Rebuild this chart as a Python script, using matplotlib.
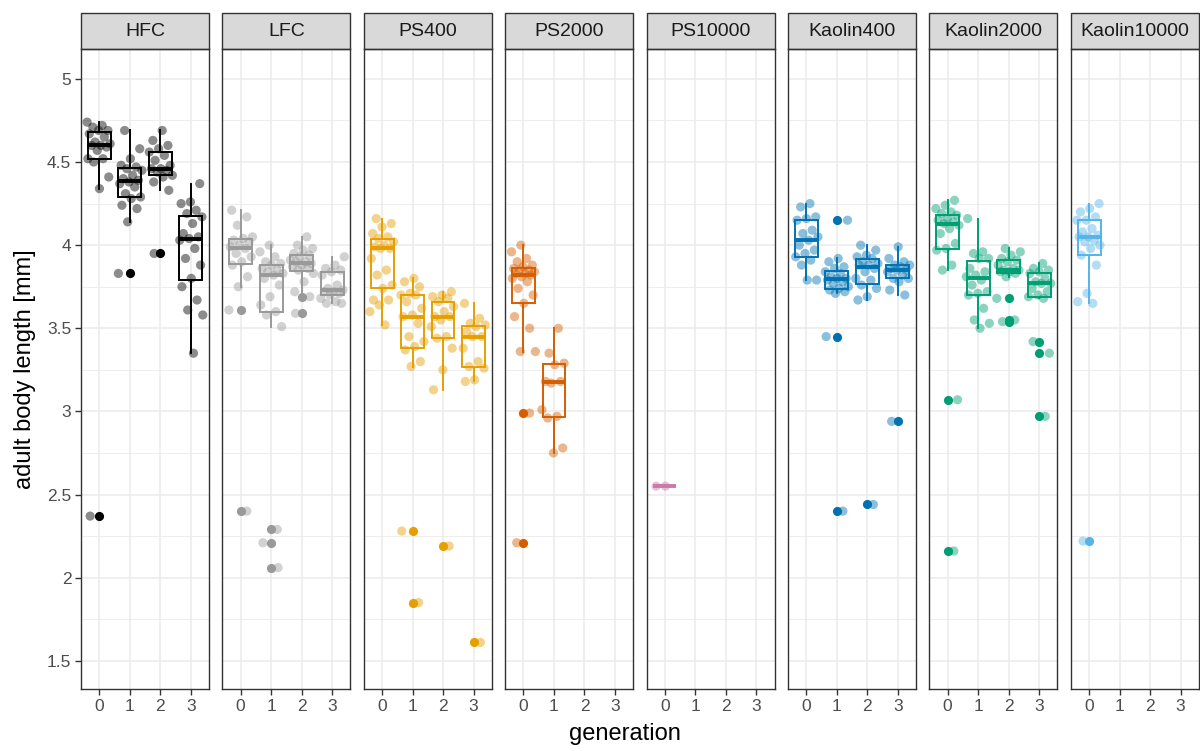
import numpy as np
import matplotlib.pyplot as plt
from matplotlib.patches import Rectangle
from matplotlib.ticker import MultipleLocator, FormatStrFormatter

plt.rcParams["font.family"] = ["Liberation Sans", "DejaVu Sans"]

# facets and colours (Okabe-Ito)
treatments = ["HFC", "LFC", "PS400", "PS2000", "PS10000",
              "Kaolin400", "Kaolin2000", "Kaolin10000"]
colours = ["#000000", "#999999", "#E69F00", "#D55E00", "#CC79A7",
           "#0072B2", "#009E73", "#56B4E9"]
generations = [0, 1, 2, 3]

# adult body length [mm] per treatment, one list per generation
hfc = [
    [4.74, 4.72, 4.71, 4.69, 4.69, 4.67, 4.65, 4.62, 4.61, 4.60, 4.60, 4.59,
     4.57, 4.52, 4.52, 4.50, 4.41, 4.34, 2.37],
    [4.69, 4.58, 4.52, 4.48, 4.47, 4.46, 4.45, 4.42, 4.40, 4.39, 4.38, 4.37,
     4.35, 4.31, 4.29, 4.28, 4.24, 4.22, 4.14, 3.83],
    [4.69, 4.63, 4.60, 4.58, 4.56, 4.54, 4.51, 4.48, 4.46, 4.46, 4.45, 4.44,
     4.42, 4.41, 4.38, 4.33, 3.95],
    [4.37, 4.26, 4.25, 4.21, 4.19, 4.17, 4.13, 4.07, 4.05, 4.04, 4.03, 3.98,
     3.92, 3.88, 3.80, 3.75, 3.67, 3.61, 3.58, 3.35],
]
lfc = [
    [4.21, 4.17, 4.12, 4.05, 4.04, 4.03, 4.02, 4.00, 3.99, 3.98, 3.95, 3.93,
     3.90, 3.88, 3.81, 3.75, 3.61, 2.40],
    [4.00, 3.96, 3.93, 3.90, 3.89, 3.88, 3.86, 3.85, 3.84, 3.83, 3.82, 3.80,
     3.76, 3.69, 3.64, 3.60, 3.58, 3.51, 2.29, 2.21, 2.06],
    [4.05, 4.00, 3.98, 3.97, 3.95, 3.94, 3.93, 3.91, 3.90, 3.90, 3.89, 3.88,
     3.87, 3.86, 3.85, 3.83, 3.78, 3.72, 3.69, 3.59],
    [3.93, 3.88, 3.86, 3.85, 3.84, 3.82, 3.76, 3.74, 3.73, 3.72, 3.72, 3.71,
     3.70, 3.68, 3.66, 3.65, 3.65],
]
ps400 = [
    [4.16, 4.13, 4.11, 4.07, 4.05, 4.04, 4.02, 4.00, 3.99, 3.98, 3.98, 3.92,
     3.85, 3.82, 3.76, 3.74, 3.67, 3.67, 3.64, 3.60, 3.52],
    [3.80, 3.78, 3.75, 3.71, 3.70, 3.70, 3.66, 3.62, 3.58, 3.57, 3.53, 3.45,
     3.42, 3.39, 3.37, 3.30, 3.27, 2.28, 1.85],
    [3.72, 3.70, 3.69, 3.68, 3.66, 3.63, 3.60, 3.57, 3.57, 3.55, 3.51, 3.45,
     3.44, 3.38, 3.25, 3.13, 2.19],
    [3.65, 3.56, 3.53, 3.52, 3.51, 3.48, 3.45, 3.45, 3.38, 3.30, 3.27, 3.26,
     3.19, 3.18, 1.61],
]
ps2000 = [
    [4.00, 3.96, 3.92, 3.90, 3.88, 3.87, 3.86, 3.85, 3.85, 3.84, 3.83, 3.83,
     3.82, 3.81, 3.80, 3.78, 3.74, 3.70, 3.65, 3.57, 3.50, 3.36, 3.36, 2.99,
     2.21],
    [3.50, 3.35, 3.29, 3.28, 3.18, 3.18, 3.17, 3.01, 2.97, 2.96, 2.78, 2.75],
    [],
    [],
]
ps10000 = [
    [2.55, 2.55],
    [],
    [],
    [],
]
kaolin400 = [
    [4.25, 4.23, 4.17, 4.16, 4.15, 4.09, 4.07, 4.05, 4.03, 4.00, 3.97, 3.95,
     3.93, 3.91, 3.88, 3.79, 3.79],
    [4.15, 3.92, 3.90, 3.87, 3.86, 3.84, 3.83, 3.81, 3.80, 3.80, 3.79, 3.78,
     3.77, 3.75, 3.74, 3.73, 3.72, 3.71, 3.45, 2.40],
    [4.00, 3.97, 3.94, 3.93, 3.92, 3.90, 3.89, 3.88, 3.88, 3.86, 3.84, 3.80,
     3.79, 3.76, 3.74, 3.69, 3.67, 2.44],
    [3.99, 3.92, 3.90, 3.88, 3.88, 3.87, 3.86, 3.85, 3.85, 3.84, 3.82, 3.80,
     3.80, 3.78, 3.73, 3.70, 2.94],
]
kaolin2000 = [
    [4.27, 4.24, 4.22, 4.20, 4.19, 4.18, 4.16, 4.15, 4.14, 4.13, 4.12, 4.10,
     4.07, 4.01, 3.98, 3.97, 3.88, 3.85, 3.07, 2.16],
    [4.16, 3.96, 3.95, 3.92, 3.92, 3.86, 3.84, 3.82, 3.81, 3.79, 3.76, 3.72,
     3.71, 3.70, 3.62, 3.55, 3.53, 3.50],
    [3.98, 3.96, 3.94, 3.92, 3.91, 3.90, 3.88, 3.86, 3.85, 3.85, 3.84, 3.84,
     3.83, 3.81, 3.68, 3.55, 3.54],
    [3.89, 3.86, 3.85, 3.84, 3.83, 3.80, 3.78, 3.77, 3.77, 3.74, 3.72, 3.70,
     3.69, 3.68, 3.42, 3.35, 2.97],
]
kaolin10000 = [
    [4.25, 4.22, 4.20, 4.17, 4.15, 4.15, 4.10, 4.08, 4.06, 4.05, 4.05, 4.03,
     4.02, 4.00, 3.98, 3.94, 3.88, 3.71, 3.66, 3.65, 2.22],
    [],
    [],
    [],
]

all_data = [hfc, lfc, ps400, ps2000, ps10000, kaolin400, kaolin2000, kaolin10000]

# layout in pixels
W, H = 1200, 751
left0, step, pw = 81, 141.4, 128
top, bottom = 49, 689
strip_h = 36

fig = plt.figure(figsize=(W / 100, H / 100), dpi=100)

for k, (name, col, groups) in enumerate(zip(treatments, colours, all_data)):
    ax = fig.add_axes([(left0 + k * step) / W, 1 - bottom / H,
                       pw / W, (bottom - top) / H])
    ax.set_xlim(-0.6, 3.6)
    ax.set_ylim(1.33, 5.18)

    pos = [g for g in generations if len(groups[g]) > 0]
    vals = [groups[g] for g in pos]
    ax.boxplot(vals, positions=pos, widths=0.75, whis=1.5, showcaps=False,
               patch_artist=True, manage_ticks=False,
               boxprops=dict(facecolor="none", edgecolor=col, linewidth=1.4),
               whiskerprops=dict(color=col, linewidth=1.4),
               medianprops=dict(color=col, linewidth=2.8, solid_capstyle="butt"),
               flierprops=dict(marker="o", markerfacecolor=col,
                               markeredgecolor="none", markersize=6.6),
               zorder=3)

    # jittered raw points (outliers sit at the end of each list, push them aside)
    for g in pos:
        y = np.array(groups[g])
        n = len(y)
        offs = ((np.arange(n) * 0.618034 + 0.13 * k + 0.29 * g) % 1 - 0.5) * 0.8
        q1, q3 = np.percentile(y, [25, 75])
        far = (y < q1 - 1.5 * (q3 - q1)) | (y > q3 + 1.5 * (q3 - q1))
        offs[far] = np.where(offs[far] >= 0, np.maximum(offs[far], 0.2),
                             np.minimum(offs[far], -0.2))
        ax.scatter(g + offs, y, s=44, color=col, alpha=0.45,
                   edgecolors="none", zorder=4)

    ax.set_xticks(generations)
    ax.set_xticklabels([str(g) for g in generations])
    ax.yaxis.set_major_locator(MultipleLocator(0.5))
    ax.yaxis.set_minor_locator(MultipleLocator(0.25))
    ax.yaxis.set_major_formatter(FormatStrFormatter("%g"))
    ax.grid(which="major", color="#EBEBEB", linewidth=1.1, zorder=0)
    ax.grid(which="minor", axis="y", color="#EBEBEB", linewidth=0.6, zorder=0)
    ax.set_axisbelow(True)
    ax.tick_params(which="major", length=4, width=1, color="#333333",
                   labelcolor="#4D4D4D", labelsize=12.5, pad=3)
    ax.tick_params(which="minor", length=0)
    if k > 0:
        ax.tick_params(axis="y", which="both", left=False, labelleft=False)
    for sp in ax.spines.values():
        sp.set_color("#333333")
        sp.set_linewidth(1.0)

    # facet strip
    sh = strip_h / (bottom - top)
    ax.add_patch(Rectangle((0, 1), 1, sh, transform=ax.transAxes,
                           facecolor="#D9D9D9", edgecolor="#333333",
                           linewidth=1.0, clip_on=False))
    ax.text(0.5, 1 + sh / 2, name, transform=ax.transAxes, ha="center",
            va="center", fontsize=14, color="#1A1A1A")

fig.text(0.521, 0.022, "generation", ha="center", va="center", fontsize=17)
fig.text(0.021, 0.508, "adult body length [mm]", rotation=90,
         ha="center", va="center", fontsize=17)

fig.savefig("out.png", dpi=100)
